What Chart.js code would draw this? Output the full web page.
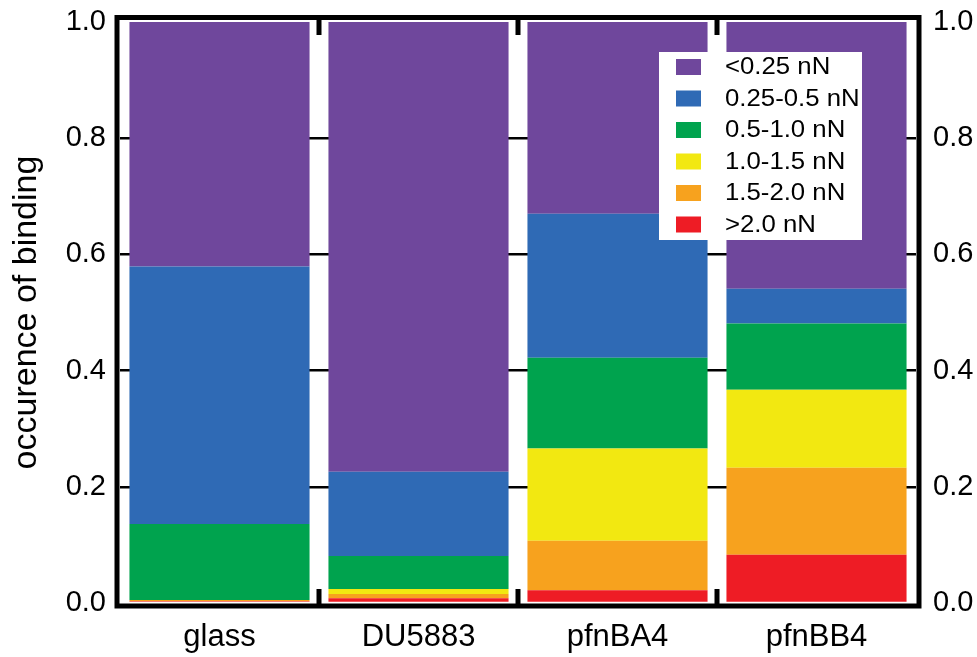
<!DOCTYPE html>
<html>
<head>
<meta charset="utf-8">
<script src="https://cdn.jsdelivr.net/npm/chart.js@4"></script>
<style>
  html, body { margin: 0; padding: 0; background: #fff; }
  #wrap { width: 977px; height: 657px; }
</style>
</head>
<body>
<div id="wrap"><canvas id="forceChart" width="977" height="657"></canvas></div>
<script>
// =================== DATA ===================
const categories = ['glass', 'DU5883', 'pfnBA4', 'pfnBB4'];

// stacked bottom to top
const over20   = [0.003, 0.008, 0.022, 0.083];
const from15   = [0.002, 0.0075, 0.085, 0.150];
const from10   = [0.000, 0.0085, 0.159, 0.134];
const from05   = [0.131, 0.057, 0.156, 0.114];
const from025  = [0.443, 0.145, 0.248, 0.060];
const under025 = [0.421, 0.774, 0.330, 0.459];

const seriesLabels = ['>2.0 nN', '1.5-2.0 nN', '1.0-1.5 nN', '0.5-1.0 nN', '0.25-0.5 nN', '<0.25 nN'];
const seriesColors = ['#EE1C25', '#F7A21E', '#F2E811', '#00A34E', '#2F6AB5', '#6F479C'];
const seriesData = [over20, from15, from10, from05, from025, under025];

const yTicks = [0, 0.2, 0.4, 0.6, 0.8, 1.0];

const FONT = 'Liberation Sans, Arial, sans-serif';

// =================== PLUGINS ===================

// thick frame + little ticks at category boundaries
const framePlugin = {
  id: 'frame',
  afterDatasetsDraw(chart) {
    const { ctx, chartArea: a, scales } = chart;
    ctx.save();
    ctx.strokeStyle = '#000';
    ctx.lineWidth = 5;
    ctx.strokeRect(a.left - 3, a.top - 4.5, a.right - a.left + 6, a.bottom - a.top + 7.5);

    const x = scales.x;
    ctx.fillStyle = '#000';
    for (let i = 1; i < categories.length; i++) {
      const bx = (x.getPixelForValue(i - 1) + x.getPixelForValue(i)) / 2;
      ctx.fillRect(bx - 2.5, a.bottom - 14, 5, 16);
      ctx.fillRect(bx - 2.5, a.top - 3, 5, 16);
    }
    ctx.restore();
  }
};

// legend box inside plot
const boxLegend = {
  id: 'boxLegend',
  afterDraw(chart) {
    const { ctx, chartArea: a } = chart;
    const bx = a.left + 539, by = a.top + 30, bw = 203, bh = 188;
    ctx.save();
    ctx.fillStyle = '#fff';
    ctx.fillRect(bx, by, bw, bh);
    ctx.font = '23px ' + FONT;
    ctx.textBaseline = 'middle';
    const n = seriesLabels.length;
    for (let i = 0; i < n; i++) {
      const idx = n - 1 - i;
      const cy = by + 15 + i * 31.5;
      ctx.fillStyle = seriesColors[idx];
      ctx.fillRect(bx + 17, cy - 8, 25, 16);
      ctx.fillStyle = '#000';
      ctx.save();
      ctx.translate(bx + 66, cy + 1);
      ctx.scale(1.12, 1);
      ctx.fillText(seriesLabels[idx], 0, 0);
      ctx.restore();
    }
    ctx.restore();
  }
};

// =================== CHART ===================

const datasets = seriesData.map((d, i) => ({
  label: seriesLabels[i],
  data: d,
  backgroundColor: seriesColors[i],
  borderWidth: 0,
  categoryPercentage: 1.0,
  barPercentage: 0.905
}));

const tickFont = { family: FONT, size: 29 };

// y axes: fixed width, no extra room for half labels above the top tick
function fitY(width) {
  return s => {
    s.width = width;
    s.paddingTop = 0;
    s.paddingBottom = 0;
  };
}

new Chart(document.getElementById('forceChart'), {
  type: 'bar',
  data: { labels: categories, datasets: datasets },
  options: {
    responsive: false,
    animation: false,
    layout: { padding: { top: 22, left: 0, right: 0, bottom: 0 } },
    plugins: {
      legend: { display: false },
      tooltip: { enabled: false }
    },
    scales: {
      x: {
        stacked: true,
        grid: { display: false },
        border: { display: false },
        ticks: { color: '#000', font: { family: FONT, size: 31 }, padding: 8 },
        afterFit(s) { s.height = 54; }
      },
      y: {
        stacked: true,
        min: 0,
        max: 1,
        afterBuildTicks(s) { s.ticks = yTicks.map(v => ({ value: v })); },
        ticks: {
          color: '#000',
          font: tickFont,
          padding: 14,
          callback: v => v.toFixed(1)
        },
        grid: {
          drawTicks: false,
          lineWidth: 2.5,
          color: c => (c.tick && (c.tick.value === 0 || c.tick.value === 1)) ? 'rgba(0,0,0,0)' : '#000'
        },
        border: { display: false },
        title: {
          display: true,
          text: 'occurence of binding',
          color: '#000',
          font: { family: FONT, size: 34 },
          padding: { top: 6, bottom: 0 }
        },
        afterFit: fitY(120)
      },
      y2: {
        position: 'right',
        min: 0,
        max: 1,
        afterBuildTicks(s) { s.ticks = yTicks.map(v => ({ value: v })); },
        ticks: {
          color: '#000',
          font: tickFont,
          padding: 17,
          callback: v => v.toFixed(1)
        },
        grid: { display: false, drawTicks: false },
        border: { display: false },
        afterFit: fitY(61)
      }
    }
  },
  plugins: [framePlugin, boxLegend]
});
</script>
</body>
</html>
